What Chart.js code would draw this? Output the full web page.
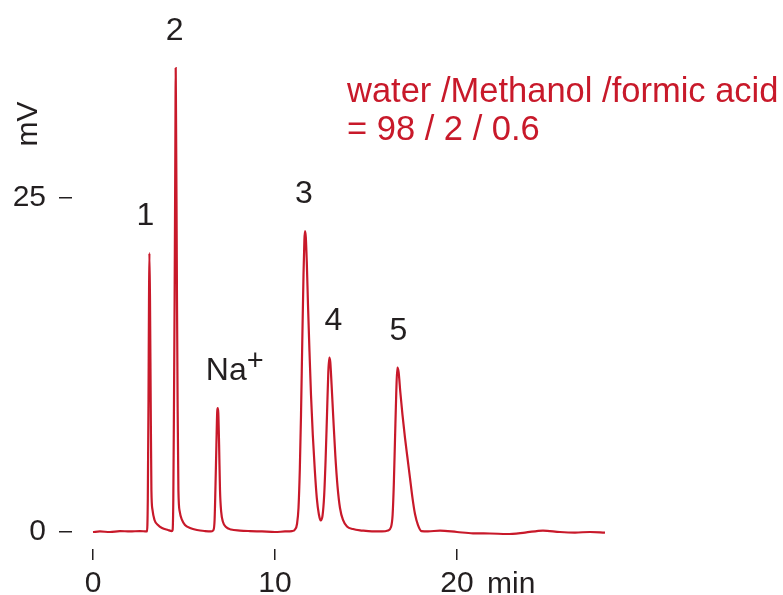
<!DOCTYPE html>
<html>
<head>
<meta charset="utf-8">
<title>Chromatogram</title>
<script src="https://cdn.jsdelivr.net/npm/chart.js@4.4.1/dist/chart.umd.min.js"></script>
<style>
    html, body { margin: 0; padding: 0; background: #fff; }
    .chart-box { position: relative; width: 783px; height: 595px; }
</style>
</head>
<body>
<div class="chart-box"><canvas id="chromChart"></canvas></div>
<script>
// --- 1. Trace (min, mV) ---
const timeMin = [
    0.00, 0.38, 0.93, 1.48, 2.03, 2.58, 2.94,
    2.967, 3.011, 3.049, 3.077, 3.099, 3.132, 3.170, 3.209, 3.269, 3.379, 3.571, 3.791, 4.121, 4.330,
    4.374, 4.412, 4.451, 4.484, 4.511, 4.533, 4.544, 4.560, 4.588, 4.615, 4.648, 4.692, 4.769, 4.890,
    5.055, 5.330, 5.714, 6.154, 6.484,
    6.621, 6.681, 6.725, 6.780, 6.824, 6.852, 6.885, 6.929, 6.978, 7.044, 7.143, 7.308, 7.582, 8.077,
    8.626, 9.286, 10.00, 10.549, 10.934,
    11.099, 11.209, 11.291, 11.363, 11.429, 11.500, 11.566, 11.615, 11.648, 11.692, 11.747, 11.813,
    11.896, 11.978, 12.077, 12.187, 12.297, 12.407, 12.511, 12.610,
    12.703, 12.780, 12.857, 12.929, 12.984, 13.038, 13.110, 13.203, 13.313, 13.434, 13.571, 13.736,
    13.956, 14.286, 14.780, 15.330, 15.879, 16.209,
    16.374, 16.462, 16.527, 16.593, 16.659, 16.720, 16.791, 16.885, 17.005, 17.143, 17.280, 17.418,
    17.555, 17.692, 17.857, 18.049, 18.407,
    19.066, 20.00, 20.879, 21.813, 22.747, 23.736, 24.725, 25.659, 26.484, 27.308, 28.132
];
const signalMv = [
    0.00, 0.04, 0.00, 0.07, 0.04, 0.07, 0.04,
    0.04, 2.40, 9.88, 17.37, 20.88, 17.37, 9.88, 3.14, 1.65, 0.90, 0.52, 0.30, 0.15, 0.07,
    0.15, 2.40, 9.88, 17.37, 24.85, 31.59, 34.73, 31.59, 24.85, 17.37, 9.88, 3.14, 1.50, 0.90,
    0.52, 0.30, 0.15, 0.07, 0.04,
    0.15, 0.90, 3.14, 6.51, 8.98, 9.28, 8.91, 6.51, 3.14, 1.50, 0.75, 0.37, 0.19, 0.11,
    0.07, 0.04, 0.00, 0.04, 0.07,
    0.19, 0.60, 1.80, 4.64, 8.76, 14.37, 19.24, 21.86, 22.53, 22.08, 20.21, 16.99,
    13.47, 10.25, 7.26, 4.64, 2.54, 1.35, 0.86, 1.20,
    2.77, 5.39, 8.76, 11.98, 13.06, 12.72, 11.00, 8.53, 5.76, 3.44, 1.80, 0.90,
    0.41, 0.22, 0.11, 0.04, 0.04, 0.11,
    0.37, 1.27, 3.52, 6.89, 10.25, 12.31, 11.98, 10.48, 8.76, 7.04, 5.54, 4.04,
    2.54, 1.35, 0.52, 0.07, 0.04,
    0.11, 0.00, -0.10, -0.11, -0.15, -0.04, 0.11, 0.00, -0.04, 0.00, -0.05
];

// axis ticks
const xTicks = [0, 10, 20];
const yTicks = [0, 25];

// peak labels
const peakNames = ['1', '2', 'Na', '3', '4', '5'];
const peakTimes = [3.099, 4.544, 6.852, 11.648, 12.984, 16.720];
const peakHeights = [20.88, 34.73, 9.28, 22.53, 13.06, 12.31];

// eluent note
const eluentLines = ['water /Methanol /formic acid', '= 98 / 2 / 0.6'];

// --- 2. Look ---
const traceRed = '#c8192a';
const inkColor = '#231f20';
const fontFamily = '"Liberation Sans", Arial, Helvetica, sans-serif';
Chart.defaults.font.family = fontFamily;
Chart.defaults.color = inkColor;

// --- 3. Text drawn on top of the plot ---
const annotate = {
    id: 'annotate',
    afterDraw(chart) {
        const { ctx, scales: { x, y } } = chart;
        const shift = [-4, -1, 17, -1, 4, 1];
        ctx.save();
        ctx.fillStyle = inkColor;
        ctx.textBaseline = 'alphabetic';

        // peak numbers
        ctx.font = `32px ${fontFamily}`;
        peakNames.forEach((name, i) => {
            const px = x.getPixelForValue(peakTimes[i]) + shift[i];
            const py = y.getPixelForValue(peakHeights[i]) - 28;
            if (name === 'Na') {
                ctx.font = `32px ${fontFamily}`;
                const wNa = ctx.measureText('Na').width;
                ctx.font = `29px ${fontFamily}`;
                const wPlus = ctx.measureText('+').width;
                const left = px - (wNa + wPlus) / 2;
                ctx.textAlign = 'left';
                ctx.font = `32px ${fontFamily}`;
                ctx.fillText('Na', left, py);
                ctx.font = `29px ${fontFamily}`;
                ctx.fillText('+', left + wNa, py - 10);
                ctx.font = `32px ${fontFamily}`;
            } else {
                ctx.textAlign = 'center';
                ctx.fillText(name, px, py);
            }
        });

        // x unit next to the last tick
        ctx.font = `30px ${fontFamily}`;
        ctx.textAlign = 'left';
        ctx.fillText('min', 487, 593);

        // y unit, rotated
        ctx.save();
        ctx.translate(36.5, 124);
        ctx.rotate(-Math.PI / 2);
        ctx.textAlign = 'center';
        ctx.fillText('mV', 0, 0);
        ctx.restore();

        // eluent composition
        ctx.fillStyle = traceRed;
        ctx.font = `34.5px ${fontFamily}`;
        ctx.textAlign = 'left';
        ctx.fillText(eluentLines[0], 347, 102);
        ctx.fillText(eluentLines[1], 347, 140);
        ctx.restore();
    }
};

// --- 4. Chart ---
const points = timeMin.map((t, i) => ({ x: t, y: signalMv[i] }));

new Chart(document.getElementById('chromChart'), {
    type: 'line',
    data: {
        datasets: [{
            data: points,
            borderColor: traceRed,
            borderWidth: 2.2,
            pointRadius: 0,
            fill: false,
            cubicInterpolationMode: 'monotone'
        }]
    },
    options: {
        responsive: true,
        maintainAspectRatio: false,
        animation: false,
        layout: { padding: { top: 0, right: 163, bottom: 0, left: 0 } },
        plugins: { legend: { display: false }, tooltip: { enabled: false } },
        scales: {
            x: {
                type: 'linear',
                min: -1.1538,
                max: 28.956,
                afterBuildTicks: s => { s.ticks = xTicks.map(v => ({ value: v })); },
                afterFit: s => { s.height = 46; s.paddingLeft = 0; s.paddingRight = 0; },
                border: { display: false },
                grid: { drawOnChartArea: false, drawTicks: true, tickLength: 11, color: inkColor, lineWidth: 1.5 },
                ticks: { font: { size: 30 }, color: inkColor, padding: 6, maxRotation: 0 }
            },
            y: {
                min: -1.272,
                max: 39.82,
                afterBuildTicks: s => { s.ticks = yTicks.map(v => ({ value: v })); },
                afterFit: s => { s.width = 72; s.paddingTop = 0; s.paddingBottom = 0; },
                border: { display: false },
                grid: { drawOnChartArea: false, drawTicks: true, tickLength: 13, color: inkColor, lineWidth: 1.5 },
                ticks: { font: { size: 30 }, color: inkColor, padding: 13 }
            }
        }
    },
    plugins: [annotate]
});
</script>
</body>
</html>
